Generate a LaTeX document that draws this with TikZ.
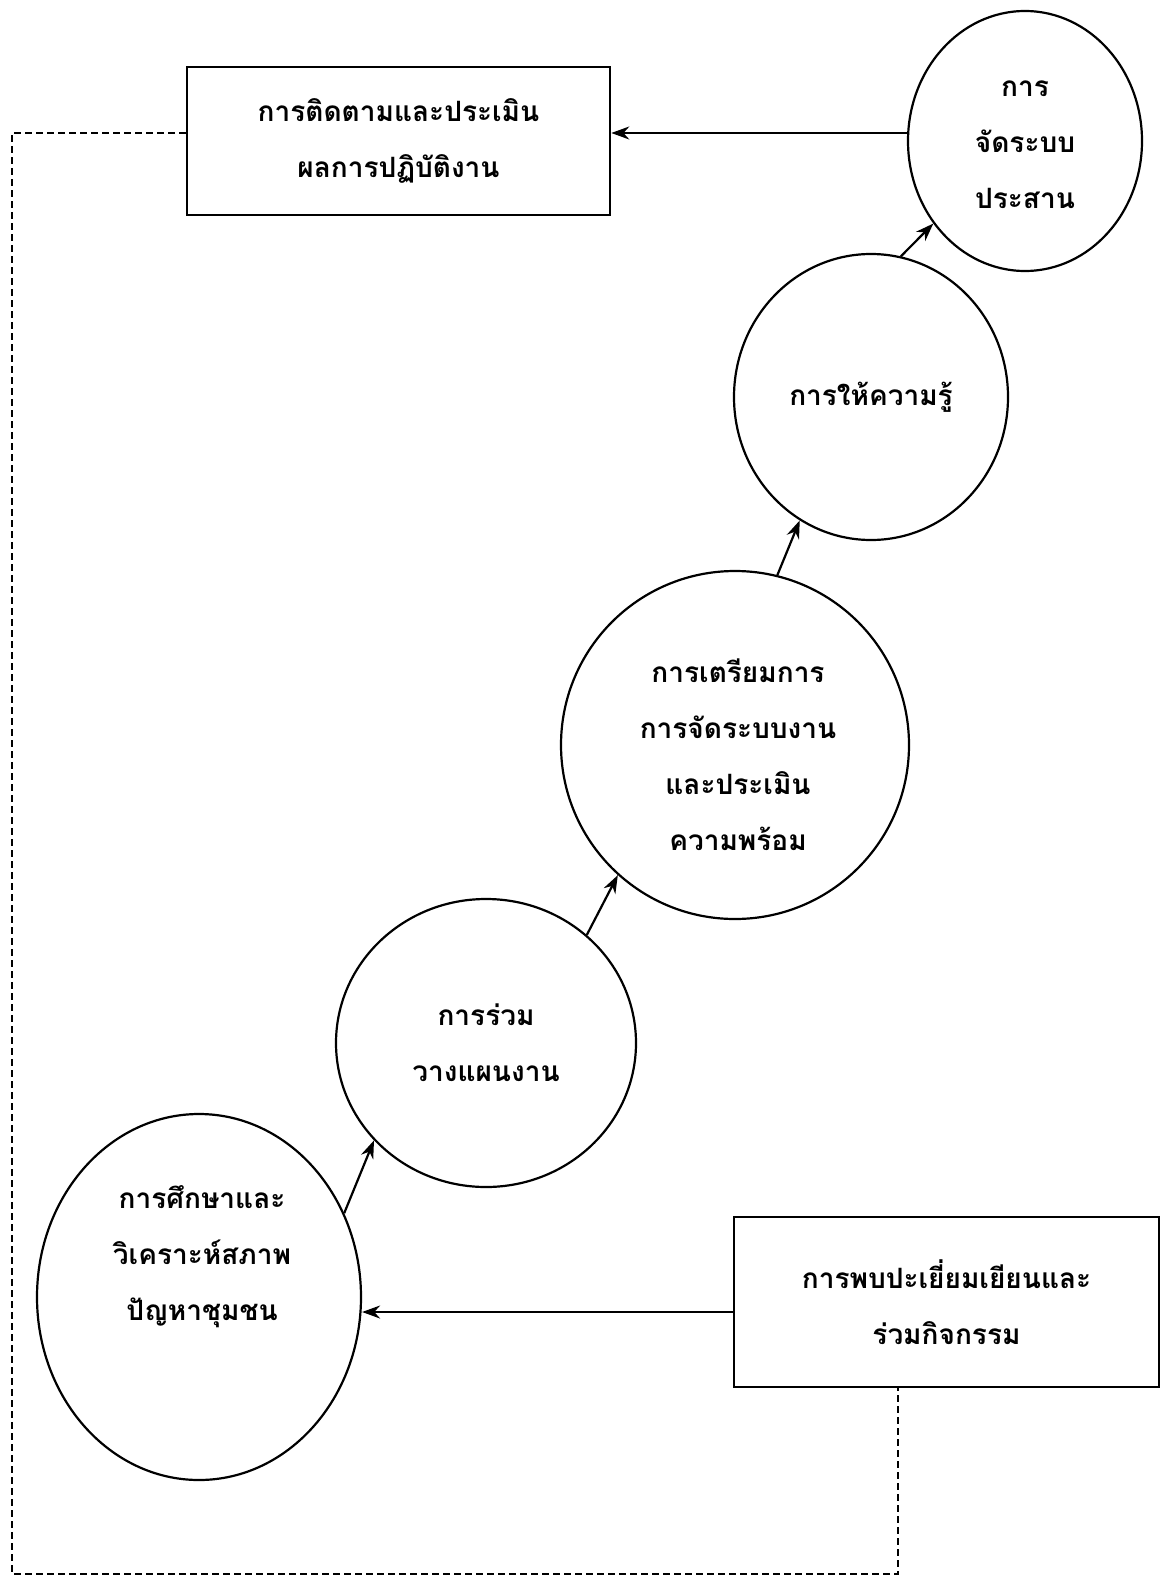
\documentclass[tikz,border=0pt]{standalone}
\usepackage{fontspec}
\newfontfamily\thaifont[Script=Thai]{Loma}
\usetikzlibrary{arrows.meta,shapes.geometric,calc}
\begin{document}
\begin{tikzpicture}[x=1pt,y=-1pt,
  every node/.style={font=\thaifont\bfseries\fontsize{28}{56}\selectfont},
  circ/.style={draw, ellipse, line width=2.2pt, inner sep=0pt},
  boxn/.style={draw, rectangle, line width=2.6pt, inner sep=0pt, align=center},
  lbl/.style={align=center, inner sep=0pt},
  arr/.style={line width=2.2pt, -{Stealth[length=18pt,width=13pt]}},
  dashline/.style={line width=2pt, dash pattern=on 7pt off 4pt}]
\useasboundingbox (0,0) rectangle (1171,1584);
% boxes
\node[boxn, minimum width=423pt, minimum height=148pt] (mon) at (398.5,141) {การติดตามและประเมิน\\ผลการปฏิบัติงาน};
\node[boxn, minimum width=425pt, minimum height=170pt] (visit) at (946.5,1302) {การพบปะเยี่ยมเยียนและ\\ร่วมกิจกรรม};
% circles
\node[circ, minimum width=234pt, minimum height=260pt] (c1) at (1025,141) {};
\node[circ, minimum width=274pt, minimum height=286pt] (c2) at (871,397) {};
\node[circ, minimum width=348pt, minimum height=348pt] (c3) at (735,745) {};
\node[circ, minimum width=300pt, minimum height=288pt] (c4) at (486,1043) {};
\node[circ, minimum width=324pt, minimum height=366pt] (c5) at (199,1297) {};
% labels
\node[lbl] (t1) at (1025,145) {การ\\จัดระบบ\\ประสาน};
\node[lbl] (t2) at (871,397) {การให้ความรู้};
\node[lbl] (t3) at (738,755) {การเตรียมการ\\การจัดระบบงาน\\และประเมิน\\ความพร้อม};
\node[lbl] (t4) at (486,1043) {การร่วม\\วางแผนงาน};
\node[lbl] (t5) at (202,1257) {การศึกษาและ\\วิเคราะห์สภาพ\\ปัญหาชุมชน};
% arrows
\draw[arr] ($(c1.west)+(0,-8)$) -- ($(mon.east)+(0,-8)$);
\draw[arr] ($(visit.west)+(0,10)$) -- ($(c5.east)+(0,15)$);
\draw[arr] (c5.30) -- (c4.221);
\draw[arr] (c4.47) -- (c3.228);
\draw[arr] (c3.76) -- (c2.240);
\draw[arr] (c2.78) -- (c1.222);
% dashed feedback loop
\coordinate (dtl) at (12,133);
\coordinate (dbl) at (12,1574);
\coordinate (dbr) at (898,1574);
\draw[dashline] ($(mon.west)+(0,-8)$) -- (dtl) -- (dbl) -- (dbr) -- (dbr |- visit.south);
\end{tikzpicture}
\end{document}
